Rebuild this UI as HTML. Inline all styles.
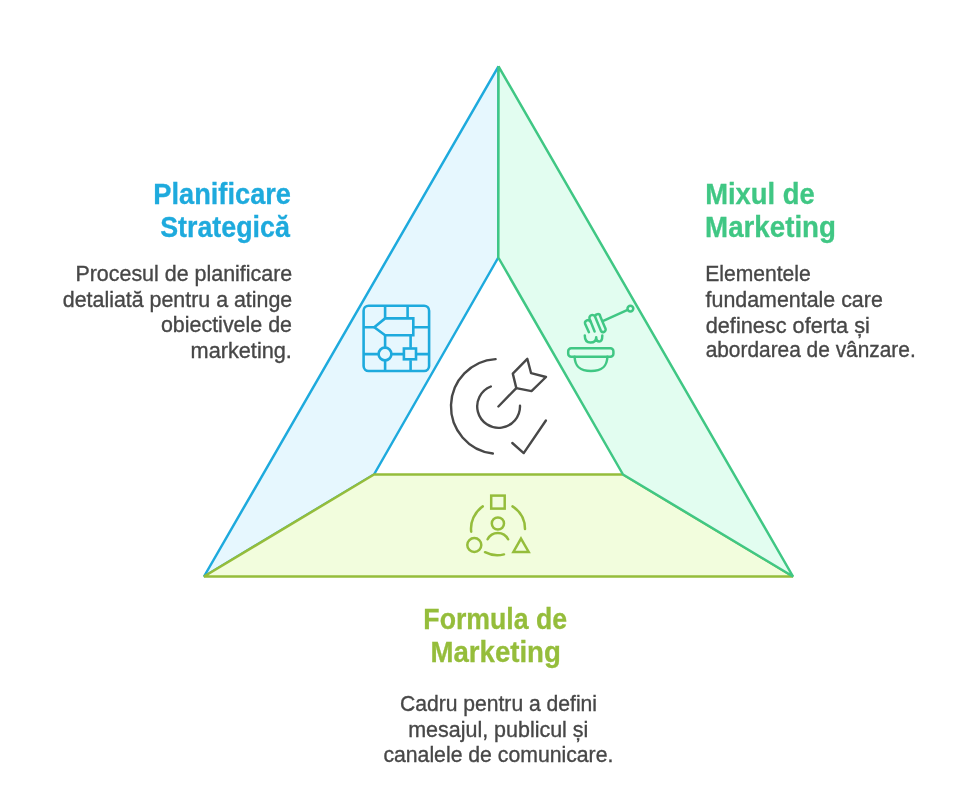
<!DOCTYPE html>
<html>
<head>
<meta charset="utf-8">
<style>
html,body{margin:0;padding:0;background:#fff;width:980px;height:788px;overflow:hidden;}
svg{display:block;will-change:transform;}
.h{font-family:"Liberation Sans",sans-serif;font-weight:700;font-size:29px;}
.b{font-family:"Liberation Sans",sans-serif;font-weight:400;font-size:21.8px;fill:#474747;}
</style>
</head>
<body>
<svg width="980" height="788" viewBox="0 0 980 788">
  <!-- triangle segments -->
  <g stroke-width="2.5" stroke-linejoin="bevel">
    <path d="M498.5,66.3 L204,576.5 L374,474.5 L498.3,257.5 Z" fill="#E6F7FE" stroke="#1EAADD"/>
    <path d="M204,576.5 L793,576.5 L623,474.5 L374,474.5 Z" fill="#F2FDDD" stroke="#95BD3B"/>
    <path d="M498.5,66.3 L793,576.5 L623,474.5 L498.3,257.5 Z" fill="#E2FDF0" stroke="#40C784"/>
  </g>

  <!-- icon 1: circuit (blue) -->
  <g fill="none" stroke="#1EAADD" stroke-width="2.6" stroke-linejoin="miter">
    <rect x="363.6" y="305.7" width="65.5" height="65.3" rx="5"/>
    <path d="M385.1,305.7 V318.4 M407.6,305.7 V318.4"/>
    <path d="M374.3,327.2 L385.1,318.4 H413.3 V335.3 H385.1 Z"/>
    <path d="M363.6,327.2 H374.3 M413.3,327.2 H429.1"/>
    <path d="M385.1,335.3 V347.5 M385.1,360.3 V371"/>
    <circle cx="385" cy="354" r="6.4"/>
    <path d="M410.6,335.3 V347.8 M410.6,360.2 V371"/>
    <rect x="403.9" y="348.5" width="12.1" height="10.8"/>
    <path d="M363.6,354.1 H378.6 M391.4,354.1 H403.9 M416,354.1 H429.1"/>
  </g>

  <!-- icon 2: target (gray) -->
  <g fill="none" stroke="#484848" stroke-width="2.4" stroke-linecap="round" stroke-linejoin="round">
    <path d="M495.6,359.1 A47.4 47.4 0 0 0 492.9,453.5"/>
    <path d="M490.8,386.5 A21.4 21.4 0 1 0 520,405.8"/>
    <path d="M498.4,406.5 L516.3,388.1"/>
    <path d="M516.3,388.1 L512.8,373.6 L527.3,358.8 L531.1,373.2 L546,377 L531.5,391.1 Z"/>
    <path d="M512.3,443 L523.7,453.1 L545.9,420.5"/>
  </g>

  <!-- icon 3: honey (green) -->
  <g fill="none" stroke="#40C784" stroke-width="2.5" stroke-linecap="round" stroke-linejoin="round">
    <path d="M588.9,332.2 L585.2,324 A2.9 2.9 0 0 1 590.5,321.7"/>
    <path d="M594.6,331.5 L589.6,318.9 A2.9 2.9 0 0 1 595.2,317 L600.8,330.6 A2.5 2.5 0 0 0 605.4,328.4 L600.2,316.3 A2.5 2.5 0 0 0 595.2,317"/>
    <path d="M603.3,320.9 L627.6,309.9"/>
    <circle cx="630.4" cy="308.6" r="2.9"/>
    <path d="M584.8,335.5 Q584.8,342.5 590.5,342.5 Q596.2,342.5 596.2,337.2 Q596.2,341.5 599.3,341.5 Q602.3,341.5 602.3,335.5"/>
    <rect x="568.2" y="348.3" width="45.2" height="8.5" rx="3"/>
    <path d="M574.6,356.8 C575,367 580,371 591,371 C602,371 607,367 607.4,356.8"/>
  </g>

  <!-- icon 4: people (yellow-green) -->
  <g fill="none" stroke="#95BD3B" stroke-width="2.5" stroke-linecap="round" stroke-linejoin="miter">
    <rect x="491.2" y="495.6" width="13.5" height="13"/>
    <circle cx="497.9" cy="523.5" r="6.1"/>
    <path d="M487.6,539.3 A11.5 11.5 0 0 1 508.1,539.3"/>
    <circle cx="474.3" cy="545" r="7"/>
    <path d="M521,538.6 L528.7,552 H513.4 Z"/>
    <path d="M482.8,506.4 A26.7 26.7 0 0 0 471.2,531.7"/>
    <path d="M512.5,506.4 A26.7 26.7 0 0 1 525,529"/>
    <path d="M485,552.2 A26.7 26.7 0 0 0 504,554.4"/>
  </g>

  <text class="h" fill="#1EAADD" stroke="#1EAADD" stroke-width="0.3" x="153.34" y="203.5" textLength="137.68" lengthAdjust="spacingAndGlyphs">Planificare</text>
  <text class="h" fill="#1EAADD" stroke="#1EAADD" stroke-width="0.3" x="160.13" y="237.4" textLength="129.68" lengthAdjust="spacingAndGlyphs">Strategică</text>
  <text class="b" fill="#474747" stroke="#474747" stroke-width="0.35" x="75.38" y="281.4" textLength="216.88" lengthAdjust="spacingAndGlyphs">Procesul de planificare</text>
  <text class="b" fill="#474747" stroke="#474747" stroke-width="0.35" x="62.77" y="306.8" textLength="229.49" lengthAdjust="spacingAndGlyphs">detaliată pentru a atinge</text>
  <text class="b" fill="#474747" stroke="#474747" stroke-width="0.35" x="160.96" y="332.2" textLength="131.01" lengthAdjust="spacingAndGlyphs">obiectivele de</text>
  <text class="b" fill="#474747" stroke="#474747" stroke-width="0.35" x="190.57" y="357.5" textLength="101.32" lengthAdjust="spacingAndGlyphs">marketing.</text>
  <text class="h" fill="#40C784" stroke="#40C784" stroke-width="0.3" x="705.16" y="203.6" textLength="109.53" lengthAdjust="spacingAndGlyphs">Mixul de</text>
  <text class="h" fill="#40C784" stroke="#40C784" stroke-width="0.3" x="705.12" y="237.4" textLength="130.85" lengthAdjust="spacingAndGlyphs">Marketing</text>
  <text class="b" fill="#474747" stroke="#474747" stroke-width="0.35" x="705.21" y="281.3" textLength="105.53" lengthAdjust="spacingAndGlyphs">Elementele</text>
  <text class="b" fill="#474747" stroke="#474747" stroke-width="0.35" x="705.55" y="306.6" textLength="177.26" lengthAdjust="spacingAndGlyphs">fundamentale care</text>
  <text class="b" fill="#474747" stroke="#474747" stroke-width="0.35" x="705.72" y="332.5" textLength="164.11" lengthAdjust="spacingAndGlyphs">definesc oferta și</text>
  <text class="b" fill="#474747" stroke="#474747" stroke-width="0.35" x="705.64" y="357.2" textLength="210.10" lengthAdjust="spacingAndGlyphs">abordarea de vânzare.</text>
  <text class="h" fill="#95BD3B" stroke="#95BD3B" stroke-width="0.3" x="423.35" y="628.5" textLength="143.77" lengthAdjust="spacingAndGlyphs">Formula de</text>
  <text class="h" fill="#95BD3B" stroke="#95BD3B" stroke-width="0.3" x="430.44" y="662.0" textLength="130.40" lengthAdjust="spacingAndGlyphs">Marketing</text>
  <text class="b" fill="#474747" stroke="#474747" stroke-width="0.35" x="399.93" y="711.0" textLength="197.13" lengthAdjust="spacingAndGlyphs">Cadru pentru a defini</text>
  <text class="b" fill="#474747" stroke="#474747" stroke-width="0.35" x="408.19" y="736.8" textLength="180.17" lengthAdjust="spacingAndGlyphs">mesajul, publicul și</text>
  <text class="b" fill="#474747" stroke="#474747" stroke-width="0.35" x="383.42" y="762.0" textLength="229.95" lengthAdjust="spacingAndGlyphs">canalele de comunicare.</text>
</svg>
</body>
</html>
